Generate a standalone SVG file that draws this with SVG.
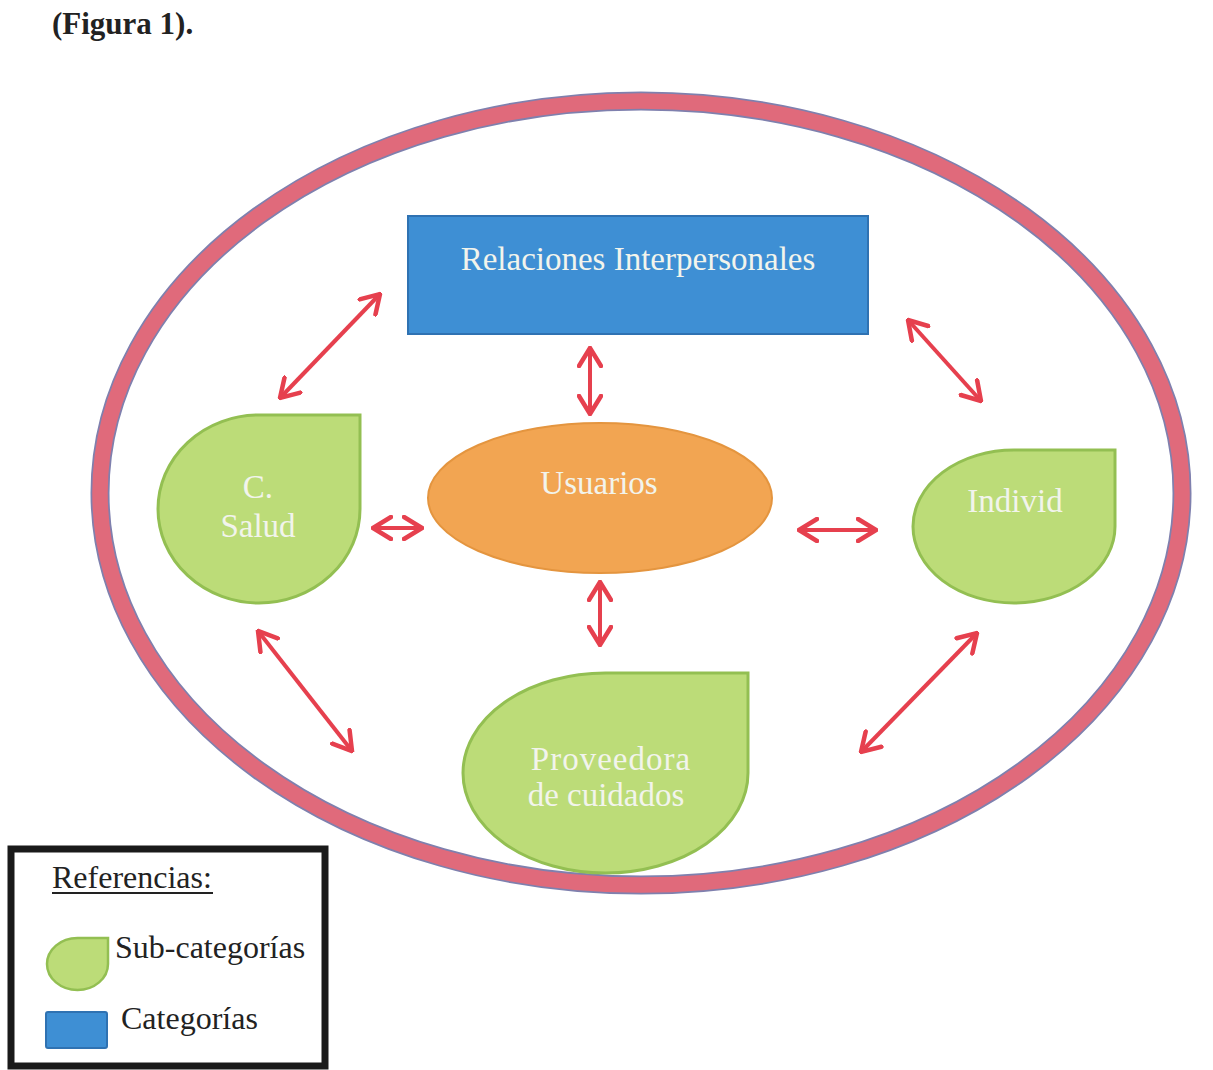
<svg xmlns="http://www.w3.org/2000/svg" width="1213" height="1070" viewBox="0 0 1213 1070">
<defs>
<style>
.serif{font-family:"Liberation Serif","Times New Roman",serif;}
.lbl{font-family:"Liberation Serif","Times New Roman",serif;font-size:33px;fill:#f2f4ec;text-anchor:middle;}
.leaf{fill:#bcdc78;stroke:#93bf52;stroke-width:3;}
.arr{fill:none;stroke:#e6404e;stroke-width:4;marker-start:url(#ah);marker-end:url(#ah);}
.legtxt{font-family:"Liberation Serif","Times New Roman",serif;font-size:32px;fill:#222;}
</style>
<marker id="ah" viewBox="0 0 22 26" refX="20" refY="13" markerWidth="22" markerHeight="26" markerUnits="userSpaceOnUse" orient="auto-start-reverse">
<path d="M2,2 L20,13 L2,24" fill="none" stroke="#e6404e" stroke-width="4.5" stroke-linecap="round" stroke-linejoin="miter"/>
</marker>
</defs>
<rect width="1213" height="1070" fill="#ffffff"/>
<text class="serif" x="52" y="34" font-size="31" font-weight="bold" fill="#222">(Figura 1).</text>

<g id="ring">
<ellipse cx="641" cy="493" rx="541" ry="392" fill="none" stroke="#7f80ae" stroke-width="19"/>
<ellipse cx="641" cy="493" rx="541" ry="392" fill="none" stroke="#e06a7b" stroke-width="15.5"/>
</g>

<g id="connectors">
<line class="arr" x1="380" y1="294" x2="280" y2="398"/>
<line class="arr" x1="590" y1="348" x2="590" y2="414"/>
<line class="arr" x1="908" y1="320" x2="981" y2="401"/>
<line class="arr" x1="373" y1="528" x2="422" y2="528"/>
<line class="arr" x1="799" y1="530" x2="876" y2="530"/>
<line class="arr" x1="600" y1="582" x2="600" y2="645"/>
<line class="arr" x1="258" y1="631" x2="352" y2="751"/>
<line class="arr" x1="977" y1="633" x2="861" y2="752"/>
</g>

<g id="relaciones">
<rect x="408" y="216" width="460" height="118" fill="#3e8fd4" stroke="#2f72b2" stroke-width="2"/>
<text class="lbl" x="638" y="270">Relaciones Interpersonales</text>
</g>

<g id="usuarios">
<ellipse cx="600" cy="498" rx="172" ry="75" fill="#f2a552" stroke="#e4953f" stroke-width="2"/>
<text class="lbl" x="599" y="494">Usuarios</text>
</g>

<g id="salud">
<path class="leaf" d="M360,415 L360,509 A101,94 0 0 1 259,603 A101,94 0 0 1 158,509 A101,94 0 0 1 259,415 Z"/>
<text class="lbl" x="258" y="498">C.</text>
<text class="lbl" x="258" y="537">Salud</text>
</g>

<g id="individ">
<path class="leaf" d="M1115,450 L1115,526.5 A101,76.5 0 0 1 1014,603 A101,76.5 0 0 1 913,526.5 A101,76.5 0 0 1 1014,450 Z"/>
<text class="lbl" x="1015" y="512">Individ</text>
</g>

<g id="proveedora">
<path class="leaf" d="M748,673 L748,773 A142.5,100 0 0 1 605.5,873 A142.5,100 0 0 1 463,773 A142.5,100 0 0 1 605.5,673 Z"/>
<text class="lbl" x="611" y="770" letter-spacing="1">Proveedora</text>
<text class="lbl" x="606" y="806">de cuidados</text>
</g>

<g id="legend">
<rect x="11" y="849" width="314" height="217" fill="#ffffff" stroke="#1a1a1a" stroke-width="7"/>
<text class="legtxt" x="52" y="888" font-size="33">Referencias:</text>
<line x1="52" y1="893" x2="213" y2="893" stroke="#222" stroke-width="2"/>
<path d="M108,938 L108,964 A30.5,26 0 0 1 77.5,990 A30.5,26 0 0 1 47,964 A30.5,26 0 0 1 77.5,938 Z" fill="#bcdc78" stroke="#93bf52" stroke-width="2.5"/>
<text class="legtxt" x="115" y="958">Sub-categorías</text>
<rect x="46" y="1012" width="61" height="36" rx="2" fill="#3e8fd4" stroke="#2f72b2" stroke-width="2"/>
<text class="legtxt" x="121" y="1029">Categorías</text>
</g>
</svg>
